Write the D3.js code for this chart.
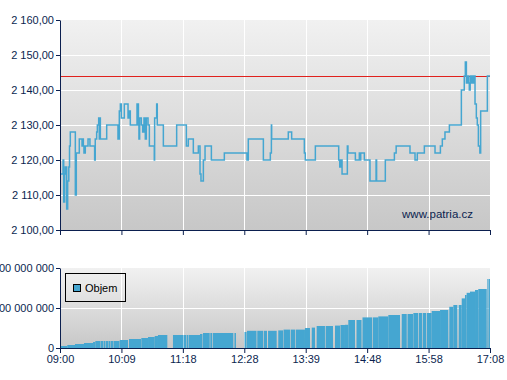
<!DOCTYPE html>
<html><head><meta charset="utf-8">
<script src="https://cdn.jsdelivr.net/npm/d3@7"></script>
<style>
html,body{margin:0;padding:0;background:#fff;}
svg{display:block;font-family:Arial,"Liberation Sans",sans-serif;}
</style></head>
<body><svg id="c" width="507" height="380"></svg>
<script>
// ---- data (minutes after 09:00) ----
const timeTickLabels = ["09:00","10:09","11:18","12:28","13:39","14:48","15:58","17:08"];
const priceTicks = [2100,2110,2120,2130,2140,2150,2160];
const volumeTicks = [0,100000000,200000000];
const referencePrice = 2144;

const priceTimes = [0,3.5,4.2,5.3,6,7.6,8.7,10,10.8,11.7,17.4,18.5,21.9,25,25.8,26.5,27.2,28.7,31.8,34,39.3,40,41.6,42.4,43.9,44.6,45.2,45.8,53,65.8,67.3,68.5,69.6,73,77.2,78.3,79.8,87.4,89,89.6,90.4,92.3,93.8,95.3,96.8,98,99.9,101.4,107,107.4,109.7,110.4,117.3,132.4,143.4,145.6,151.3,157,158.9,160,162.7,164.6,171.8,186.5,212.2,213.7,230.8,238.7,239.9,240.2,259.1,262.9,277.3,278.4,289.8,316.3,317.5,318.5,320.1,326.1,326.8,335.2,339.7,340.5,341.3,345.4,351.8,358.7,359.3,369.2,379.5,381.5,397.2,402.9,405.5,413.5,425.6,431.7,433.9,436.9,441.9,455.5,458.8,460,461.2,462.5,463.5,464.5,465.5,466.5,467.5,468.5,469.5,471,472.5,473.6,474.8,476.5,477.4,485,488];
const priceValues = [2116,2120,2108,2116,2118,2106,2114,2118,2124,2128,2110,2122,2126,2124,2126,2124,2122,2124,2126,2124,2120,2126,2128,2130,2132,2126,2132,2126,2130,2126,2134,2136,2132,2136,2132,2134,2130,2136,2130,2126,2132,2130,2128,2132,2126,2132,2130,2124,2120,2132,2136,2130,2124,2130,2124,2126,2122,2124,2116,2114,2120,2124,2120,2122,2120,2126,2120,2122,2130,2126,2128,2126,2122,2120,2124,2120,2118,2120,2116,2124,2122,2120,2122,2120,2122,2120,2114,2120,2114,2120,2122,2124,2122,2120,2122,2124,2122,2124,2126,2128,2130,2140,2144,2148,2142,2144,2142,2140,2144,2142,2144,2142,2144,2136,2132,2130,2124,2122,2134,2144,2144];

const volStart = [0.3,8.3,17.0,27.2,37.5,40.1,46.5,49.4,52.2,55.0,57.9,60.7,67.8,78.3,92.3,99.9,107.5,111.2,128.2,140.7,143.6,146.4,158.9,162.3,170.6,173.6,198.0,209.4,212.2,223.9,231.2,236.1,247.7,253.7,261.8,267.5,278.0,285.7,291.3,301.5,312.1,318.3,323.4,327.2,336.5,343.3,354.9,361.2,372.6,387.8,394.4,401.0,407.1,411.6,416.2,421.8,431.3,441.8,446.4,452.5,455.9,459.6,461.5,465.3,471.0,474.7,485.0,486.9];
const volEnd   = [8.3,17.0,27.2,37.5,40.1,46.0,48.8,51.6,54.5,57.3,60.1,67.5,77.2,91.9,99.9,107.5,111.2,121.8,140.2,143.0,145.8,158.9,161.7,169.9,172.8,196.7,199.7,211.7,223.0,230.4,234.9,245.9,253.1,261.0,266.7,278.0,283.7,289.4,300.7,309.8,317.8,323.4,327.2,334.8,342.2,354.1,361.2,372.6,385.9,393.5,400.6,406.3,410.8,415.4,421.8,431.3,440.7,446.4,450.9,455.9,459.6,461.5,465.3,471.0,474.7,484.3,486.4,488.0];
const volValues = [5,7.5,10,12.5,15,17.5,17.5,17.5,17.5,17.5,17.5,17.5,20,22.5,25,27.5,30,32.5,32.5,32.5,32.5,32.5,35,37.5,37.5,37.5,37.5,40,43,43,43,43,44,46,46,46,50,51,55,55,56,57.5,58,70,70,76.5,76.5,79,82.5,85,85,87.5,87.5,87.5,87.5,92.5,95,103,107.5,107.5,124,132.5,138,141,145,147.5,172.5,172.5].map(v => v*1e6);

// ---- drawing ----
const navy = "#0b1f4f", blue = "#45a6d1";
const svg = d3.select("#c");
const defs = svg.append("defs");
const g = defs.append("linearGradient").attr("id","bg").attr("x1",0).attr("y1",0).attr("x2",0).attr("y2",1);
g.append("stop").attr("offset","0%").attr("stop-color","#f1f1f1");
g.append("stop").attr("offset","100%").attr("stop-color","#c7c7c7");

const L = 60, R = 490;
const x = d3.scaleLinear().domain([0,488]).range([L,R]);
const tickPos = timeTickLabels.map((d,i) => i*488/(timeTickLabels.length-1));
const yP = d3.scaleLinear().domain([2100,2160]).range([230,20]);
const yV = d3.scaleLinear().domain([0,200000000]).range([348,268]);
const loc = d3.formatLocale({decimal:",", thousands:" ", grouping:[3], currency:["",""]});
const fP = loc.format(",.2f"), fV = loc.format(",d");

function panel(y, top, bottom){
  svg.append("rect").attr("x",L).attr("y",top).attr("width",R-L).attr("height",bottom-top).attr("fill","url(#bg)");
}
panel(yP,20,230);
panel(yV,268,348);

// grids
const grid = svg.append("g").attr("stroke","#fff").attr("stroke-width",1);
priceTicks.slice(1,-1).forEach(v => grid.append("line").attr("x1",L).attr("x2",R).attr("y1",Math.round(yP(v))+0.5).attr("y2",Math.round(yP(v))+0.5));
volumeTicks.slice(1,-1).forEach(v => grid.append("line").attr("x1",L).attr("x2",R).attr("y1",Math.round(yV(v))+0.5).attr("y2",Math.round(yV(v))+0.5));
tickPos.slice(1,-1).forEach(t => {
  const xx = Math.round(x(t))+0.5;
  grid.append("line").attr("x1",xx).attr("x2",xx).attr("y1",20).attr("y2",230);
  grid.append("line").attr("x1",xx).attr("x2",xx).attr("y1",268).attr("y2",348);
});

// reference line
svg.append("line").attr("x1",L).attr("x2",R).attr("y1",Math.round(yP(referencePrice))+0.5).attr("y2",Math.round(yP(referencePrice))+0.5)
  .attr("stroke","#e0211d").attr("stroke-width",1);

// price line
const pts = priceTimes.map((t,i)=>[t,priceValues[i]]);
svg.append("clipPath").attr("id","cp").append("rect").attr("x",L).attr("y",20).attr("width",R-L).attr("height",210);
svg.append("path").datum(pts).attr("clip-path","url(#cp)")
  .attr("d", d3.line().x(d=>x(d[0])).y(d=>yP(d[1])).curve(d3.curveStepAfter))
  .attr("fill","none").attr("stroke",blue).attr("stroke-width",1.5);

// watermark
svg.append("text").attr("x",473).attr("y",217.5).attr("text-anchor","end").attr("fill",navy)
  .style("font-size","11.5px").text("www.patria.cz");

// volume bars
svg.append("g").selectAll("rect").data(volValues).join("rect")
  .attr("x",(d,i)=>x(volStart[i])).attr("width",(d,i)=>x(volEnd[i])-x(volStart[i]))
  .attr("y",d=>yV(d)).attr("height",d=>yV(0)-yV(d)).attr("fill",blue);

// axes
function style(a){
  a.selectAll("path,line").attr("stroke",navy).attr("stroke-width",1);
  a.selectAll("text").attr("fill",navy).style("font-size","11px").style("font-family","Arial, 'Liberation Sans', sans-serif");
}
style(svg.append("g").attr("transform",`translate(${L},0)`).call(d3.axisLeft(yP).tickValues(priceTicks).tickFormat(fP).tickSize(4).tickSizeOuter(0).tickPadding(2)));
style(svg.append("g").attr("transform",`translate(0,230)`).call(d3.axisBottom(x).tickValues(tickPos).tickFormat("").tickSize(5).tickSizeOuter(0)));
style(svg.append("g").attr("transform",`translate(${L},0)`).call(d3.axisLeft(yV).tickValues(volumeTicks).tickFormat(fV).tickSize(4).tickSizeOuter(0).tickPadding(2)));
style(svg.append("g").attr("transform",`translate(0,348)`).call(d3.axisBottom(x).tickValues(tickPos).tickFormat((d,i)=>timeTickLabels[i]).tickSize(5).tickSizeOuter(0).tickPadding(2)));

// legend
svg.append("rect").attr("x",65.5).attr("y",273.5).attr("width",60).attr("height",28).attr("fill","none").attr("stroke","#000");
svg.append("rect").attr("x",73.5).attr("y",284.5).attr("width",7).attr("height",7).attr("fill",blue).attr("stroke","#000");
svg.append("text").attr("x",85).attr("y",292).attr("fill","#000").style("font-size","11px").text("Objem");
</script></body></html>
